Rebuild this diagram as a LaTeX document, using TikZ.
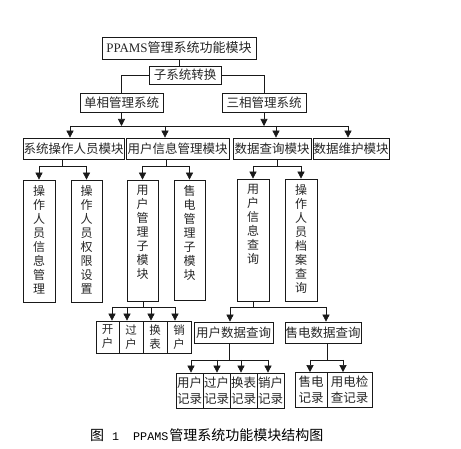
\documentclass[tikz,border=0pt]{standalone}
\usepackage{fontspec}
\setmainfont{Noto Sans CJK SC}
\newfontfamily\latserif{Liberation Serif}
\newfontfamily\latmono{Liberation Mono}
\usetikzlibrary{arrows.meta}
\newcommand\vbx[2]{\parbox[c][#1pt][t]{16pt}{\centering\fontsize{12}{14}\selectfont #2}}
\tikzset{
  bx/.style n args={2}{draw=black!90, line width=0.7pt, inner sep=0pt,
     minimum width=#1pt, minimum height=#2pt, text=black!85,
     font=\fontsize{12.5}{14}\selectfont},
  ln/.style={draw=black!90, line width=0.6pt},
  arr/.style={ln, -{Triangle[width=7pt,length=7pt]}},
}
\begin{document}
\begin{tikzpicture}[x=1pt,y=-1pt]
\useasboundingbox (0,0) rectangle (461,449);
% level 0-2
\node[bx={154}{22}, font=\fontsize{13}{14}\selectfont] (top) at (179,48) {{\latserif PPAMS}管理系统功能模块};
\node[bx={72}{18}] (sub) at (185,75) {子系统转换};
\node[bx={83}{19}] (dan) at (121.5,102.5) {单相管理系统};
\node[bx={84}{19}] (san) at (264,102.5) {三相管理系统};
% level 3
\node[bx={101}{21}] (a1) at (73.5,148.5) {系统操作人员模块};
\node[bx={103}{21}] (a2) at (177.5,148.5) {用户信息管理模块};
\node[bx={78}{21}] (a3) at (272,148.5) {数据查询模块};
\node[bx={76}{21}] (a4) at (351,148.5) {数据维护模块};
% level 4
\node[bx={32}{122}] (b1) at (39,241) {\vbx{112}{操\\作\\人\\员\\信\\息\\管\\理}};
\node[bx={31}{122}] (b2) at (86.5,241) {\vbx{112}{操\\作\\人\\员\\权\\限\\设\\置}};
\node[bx={31}{121}] (b3) at (142.5,240.5) {\vbx{111}{用\\户\\管\\理\\子\\模\\块}};
\node[bx={31}{120}] (b4) at (189.5,240) {\vbx{110}{售\\电\\管\\理\\子\\模\\块}};
\node[bx={32}{122}] (b5) at (253,240) {\vbx{112}{用\\户\\信\\息\\查\\询}};
\node[bx={32}{122}] (b6) at (301,240) {\vbx{112}{操\\作\\人\\员\\档\\案\\查\\询}};
% level 5
\node[bx={23}{32}, align=center, font=\fontsize{11.5}{14}\selectfont] (c1) at (107.5,337) {开\\户};
\node[bx={24}{32}, align=center, font=\fontsize{11.5}{14}\selectfont] (c2) at (131,337) {过\\户};
\node[bx={24}{32}, align=center, font=\fontsize{11.5}{14}\selectfont] (c3) at (155,337) {换\\表};
\node[bx={24}{32}, align=center, font=\fontsize{11.5}{14}\selectfont] (c4) at (179,337) {销\\户};
\node[bx={79}{21}] (d1) at (233.5,332.5) {用户数据查询};
\node[bx={76}{21}] (d2) at (323,332.5) {售电数据查询};
% level 6
\node[bx={27}{35}, align=center, font=\fontsize{12.5}{16}\selectfont] (e1) at (189.5,390.5) {用户\\记录};
\node[bx={27}{35}, align=center, font=\fontsize{12.5}{16}\selectfont] (e2) at (216.5,390.5) {过户\\记录};
\node[bx={27}{35}, align=center, font=\fontsize{12.5}{16}\selectfont] (e3) at (243.5,390.5) {换表\\记录};
\node[bx={27}{35}, align=center, font=\fontsize{12.5}{16}\selectfont] (e4) at (270.5,390.5) {销户\\记录};
\node[bx={32}{35}, align=center, font=\fontsize{12.5}{16}\selectfont] (f1) at (311,390) {售电\\记录};
\node[bx={45}{35}, align=center, font=\fontsize{12.5}{16}\selectfont] (f2) at (349.5,390) {用电检\\查记录};
% caption
\node[anchor=west, inner sep=0pt, text=black, font=\fontsize{14}{16}\selectfont] (cap) at (90,435) {图\hspace{8pt}{\latmono\fontsize{11.7}{14}\selectfont 1\hspace{14pt}PPAMS}\hspace{1pt}管理系统功能模块结构图};

% connectors level 0-2
\draw[ln] (top.south) -- (top.south |- sub.north);
\draw[ln] (sub.west) -| (dan.north);
\draw[ln] (sub.east) -| (san.north);
% bus level 3
\coordinate (busL) at (70,126);
\coordinate (busR) at (348,126);
\coordinate (j2) at (165,126);
\coordinate (j3) at (276,126);
\draw[ln] (busL) -- (busR);
\draw[arr] (dan.south) -- (dan.south |- busL);
\draw[arr] (san.south) -- (san.south |- busL);
\draw[arr] (busL) -- (busL |- a1.north);
\draw[arr] (j2) -- (j2 |- a2.north);
\draw[arr] (j3) -- (j3 |- a3.north);
\draw[arr] (busR) -- (busR |- a4.north);
% a1 -> b1,b2
\coordinate (k1) at (62,166);
\draw[ln] (k1 |- a1.south) -- (k1);
\draw[ln] (b1.north |- k1) -- (b2.north |- k1);
\draw[arr] (b1.north |- k1) -- (b1.north);
\draw[arr] (b2.north |- k1) -- (b2.north);
% a2 -> b3,b4
\coordinate (k2) at (166,166);
\draw[ln] (k2 |- a2.south) -- (k2);
\draw[ln] (b3.north |- k2) -- (b4.north |- k2);
\draw[arr] (b3.north |- k2) -- (b3.north);
\draw[arr] (b4.north |- k2) -- (b4.north);
% a3 -> b5,b6
\coordinate (k3) at (277,166);
\draw[ln] (k3 |- a3.south) -- (k3);
\draw[ln] (b5.north |- k3) -- (b6.north |- k3);
\draw[arr] (b5.north |- k3) -- (b5.north);
\draw[arr] (b6.north |- k3) -- (b6.north);
% b3 -> c1..c4
\coordinate (m0) at (143,307);
\coordinate (m1) at (112,307);
\coordinate (m2) at (127,307);
\coordinate (m3) at (151,307);
\coordinate (m4) at (175,307);
\draw[ln] (m0 |- b3.south) -- (m0);
\draw[ln] (m1) -- (m4);
\draw[arr] (m1) -- (m1 |- c1.north);
\draw[arr] (m2) -- (m2 |- c2.north);
\draw[arr] (m3) -- (m3 |- c3.north);
\draw[arr] (m4) -- (m4 |- c4.north);
% b5 -> d1,d2
\coordinate (n0) at (253,307);
\coordinate (n1) at (230,307);
\coordinate (n2) at (326,307);
\draw[ln] (b5.south) -- (n0);
\draw[ln] (n1) -- (n2);
\draw[arr] (n1) -- (n1 |- d1.north);
\draw[arr] (n2) -- (n2 |- d2.north);
% d1 -> e1..e4
\coordinate (p0) at (229,360);
\coordinate (p1) at (191,360);
\coordinate (p2) at (217,360);
\coordinate (p3) at (241,360);
\coordinate (p4) at (268,360);
\draw[ln] (p0 |- d1.south) -- (p0);
\draw[ln] (p1) -- (p4);
\draw[arr] (p1) -- (p1 |- e1.north);
\draw[arr] (p2) -- (p2 |- e2.north);
\draw[arr] (p3) -- (p3 |- e3.north);
\draw[arr] (p4) -- (p4 |- e4.north);
% d2 -> f1,f2
\coordinate (q0) at (327,360);
\coordinate (q1) at (310,360);
\coordinate (q2) at (343,360);
\draw[ln] (q0 |- d2.south) -- (q0);
\draw[ln] (q1) -- (q2);
\draw[arr] (q1) -- (q1 |- f1.north);
\draw[arr] (q2) -- (q2 |- f2.north);
\end{tikzpicture}
\end{document}
